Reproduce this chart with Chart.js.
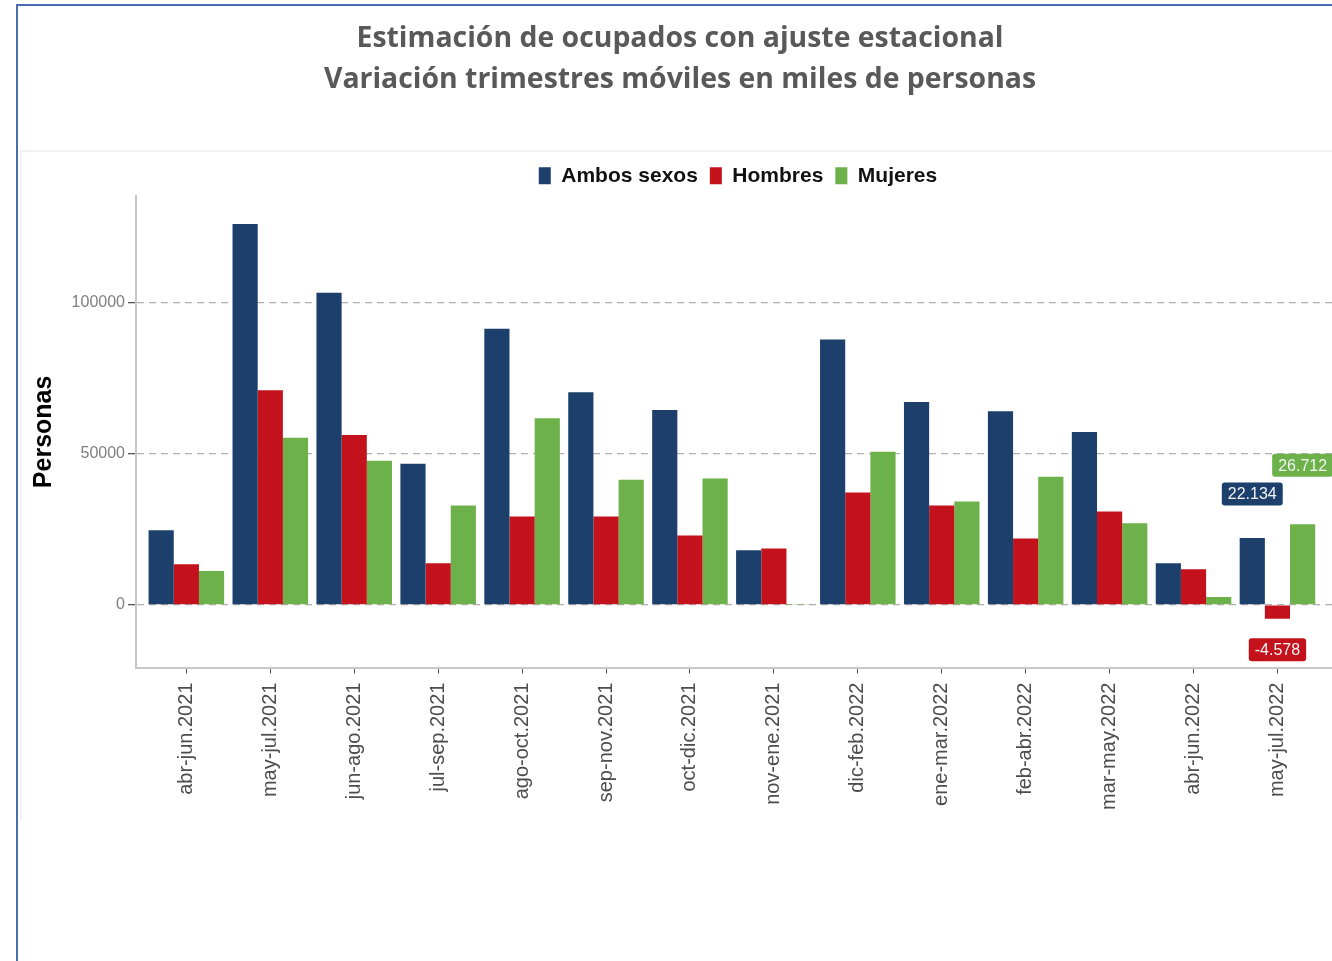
<!DOCTYPE html>
<html>
<head>
<meta charset="utf-8">
<title>Estimación de ocupados con ajuste estacional</title>
<script src="https://cdn.jsdelivr.net/npm/chart.js@4.4.1/dist/chart.umd.min.js"></script>
<style>
  body { margin: 0; background: #fff; }
  #wrap { position: relative; width: 1332px; height: 961px; overflow: hidden; }
  .line { position: absolute; }
</style>
</head>
<body>
<div id="wrap">
  <div class="line" style="left:16px;top:5px;width:2px;height:956px;background:#4a6cb0"></div>
  <div class="line" style="left:16px;top:4px;right:0;height:2px;background:#4a6cb0"></div>
  <div class="line" style="left:20px;top:150px;right:0;height:2px;background:#f1f1f1"></div>
  <div class="line" style="left:20px;top:150px;width:2px;height:670px;background:#f1f1f1"></div>
  <canvas id="chart" width="1332" height="961" style="position:absolute;left:0;top:0"></canvas>
</div>
<script>
// trimestres moviles
const categories = [
    'abr-jun.2021', 'may-jul.2021', 'jun-ago.2021', 'jul-sep.2021', 'ago-oct.2021',
    'sep-nov.2021', 'oct-dic.2021', 'nov-ene.2021', 'dic-feb.2022', 'ene-mar.2022',
    'feb-abr.2022', 'mar-may.2022', 'abr-jun.2022', 'may-jul.2022'
];

// variacion en personas
const ambosSexos = [24700, 126000, 103300, 46700, 91400, 70400, 64500, 18100, 87800, 67100, 64100, 57200, 13800, 22134];
const hombres    = [13500, 71000, 56200, 13800, 29300, 29300, 23000, 18700, 37200, 32900, 22000, 30900, 11800, -4578];
const mujeres    = [11200, 55300, 47700, 32900, 61800, 41400, 41800, 300, 50700, 34200, 42400, 27000, 2600, 26712];

const yTicks = [0, 50000, 100000];
const labelIndex = 13; // solo el ultimo trimestre lleva etiqueta

const colors = { ambos: '#1c3f6b', hombres: '#c3121b', mujeres: '#6db14a' };

function fmtMiles(v) {
    const s = Math.abs(v).toString().replace(/\B(?=(\d{3})+(?!\d))/g, '.');
    return (v < 0 ? '-' : '') + s;
}

function toPoints(arr) {
    return arr.map((v, i) => ({ x: i, y: v }));
}

// etiquetas de valor del ultimo periodo
const valueLabels = {
    id: 'valueLabels',
    afterDatasetsDraw(chart) {
        const ctx = chart.ctx;
        const offsets = [-44, 31, -59];
        ctx.save();
        ctx.font = '16px "Liberation Sans", Arial, sans-serif';
        ctx.textAlign = 'center';
        ctx.textBaseline = 'middle';
        chart.data.datasets.forEach((ds, d) => {
            const el = chart.getDatasetMeta(d).data[labelIndex];
            const v = ds.data[labelIndex].y;
            const txt = fmtMiles(v);
            const w = ctx.measureText(txt).width + 12;
            const h = 23;
            const cx = el.x;
            const cy = el.y + offsets[d];
            ctx.fillStyle = ds.backgroundColor;
            ctx.beginPath();
            ctx.roundRect(cx - w / 2, cy - h / 2, w, h, 3);
            ctx.fill();
            ctx.fillStyle = '#f4f4f4';
            ctx.fillText(txt, cx, cy + 1);
        });
        ctx.restore();
    }
};

// la leyenda va centrada sobre el panel, no sobre todo el lienzo
const shiftLegend = {
    id: 'shiftLegend',
    afterLayout(chart) {
        const lg = chart.legend;
        lg.left += 58;
        lg.right += 58;
    }
};

new Chart(document.getElementById('chart'), {
    type: 'bar',
    data: {
        datasets: [
            { label: 'Ambos sexos', data: toPoints(ambosSexos), backgroundColor: colors.ambos },
            { label: 'Hombres', data: toPoints(hombres), backgroundColor: colors.hombres },
            { label: 'Mujeres', data: toPoints(mujeres), backgroundColor: colors.mujeres }
        ]
    },
    options: {
        responsive: false,
        animation: false,
        layout: { padding: { left: 28, right: 0, top: 0, bottom: 142 } },
        datasets: {
            bar: { categoryPercentage: 0.9, barPercentage: 1.0 }
        },
        plugins: {
            title: {
                display: true,
                text: ['Estimación de ocupados con ajuste estacional', 'Variación trimestres móviles en miles de personas'],
                color: '#595959',
                font: { family: '"Open Sans", sans-serif', size: 28.4, weight: 'bold', lineHeight: 1.43 },
                padding: { top: 19, bottom: 53 }
            },
            legend: {
                position: 'top',
                labels: {
                    boxWidth: 12,
                    boxHeight: 17,
                    padding: 12,
                    color: '#111',
                    font: { family: '"Liberation Sans", Arial, sans-serif', size: 21, weight: 'bold' }
                }
            },
            tooltip: { enabled: false }
        },
        scales: {
            x: {
                type: 'linear',
                offset: false,
                min: -0.6,
                max: 13.65,
                afterBuildTicks: axis => { axis.ticks = categories.map((c, i) => ({ value: i })); },
                ticks: {
                    autoSkip: false,
                    maxRotation: 90,
                    minRotation: 90,
                    padding: 9,
                    color: '#4d4d4d',
                    font: { family: '"Liberation Sans", Arial, sans-serif', size: 20 },
                    callback: v => categories[v]
                },
                grid: { offset: false, drawOnChartArea: false, tickLength: 6, tickColor: '#555', color: '#555' },
                border: { color: '#c8c8c8', width: 2 }
            },
            y: {
                min: -20700,
                max: 135200,
                afterBuildTicks: axis => { axis.ticks = yTicks.map(v => ({ value: v })); },
                afterFit: s => { s.width = 108; },
                ticks: {
                    padding: 3,
                    color: '#7f7f7f',
                    font: { family: '"Liberation Sans", Arial, sans-serif', size: 16 },
                    callback: v => String(v)
                },
                grid: { color: '#b0b0b0', lineWidth: 1.3, tickLength: 8, tickColor: '#555' },
                border: { color: '#c8c8c8', width: 2, dash: [7, 5] },
                title: {
                    display: true,
                    text: 'Personas',
                    color: '#000',
                    font: { family: '"Liberation Sans", Arial, sans-serif', size: 25, weight: 'bold' },
                    padding: { top: 1, bottom: 0 }
                }
            }
        }
    },
    plugins: [valueLabels, shiftLegend]
});
</script>
</body>
</html>
